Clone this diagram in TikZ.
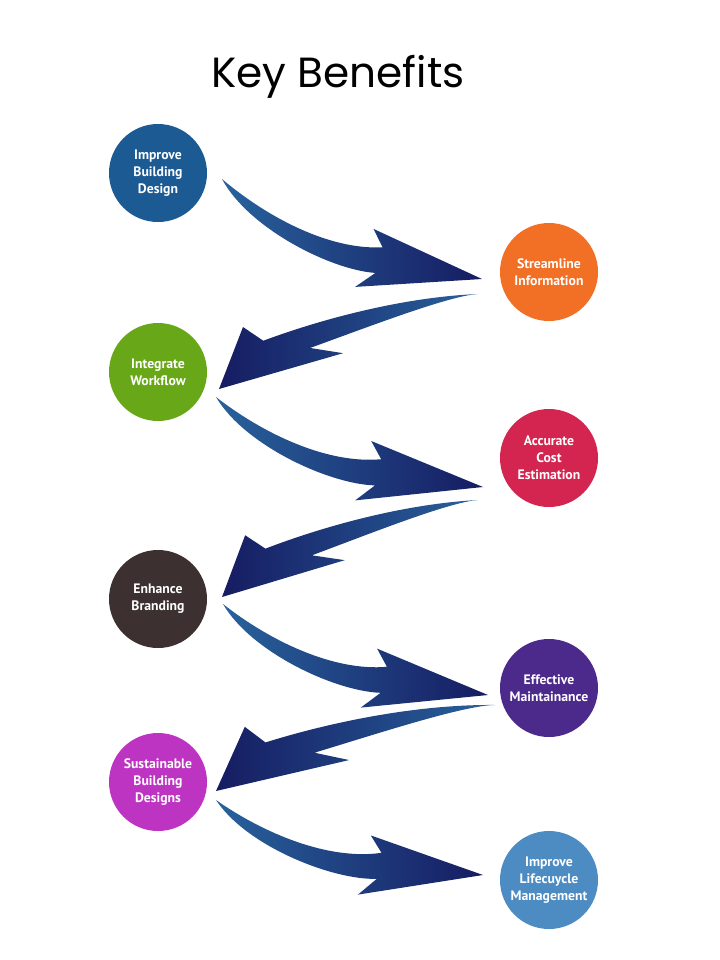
\documentclass[tikz,border=0pt]{standalone}
\usepackage{fontspec}
\usetikzlibrary{calc}
\newfontfamily\titlefont{Poppins}
\newfontfamily\labelfont{PT Sans}
\definecolor{swooshlight}{RGB}{40,98,156}
\definecolor{swooshdark}{RGB}{22,28,98}
\definecolor{ibdblue}{RGB}{28,90,148}
\definecolor{siorange}{RGB}{241,112,38}
\definecolor{iwgreen}{RGB}{104,168,24}
\definecolor{acered}{RGB}{212,36,80}
\definecolor{ebbrown}{RGB}{60,48,48}
\definecolor{empurple}{RGB}{76,42,140}
\definecolor{sbdpink}{RGB}{190,52,194}
\definecolor{ilmblue}{RGB}{76,140,194}
\newcommand\uw[4]{($(#1)!#3!(#2)+(#1)!#4!-90:(#2)-(#1)$)}
\newcommand\swooshR[2]{\shade[swooshR] (#1)
  .. controls \uw{#1}{#2}{0.2}{0.07} and \uw{#1}{#2}{0.45}{0.1} .. \uw{#1}{#2}{0.626}{0.022}
  -- \uw{#1}{#2}{0.572}{-0.028} -- (#2) -- \uw{#1}{#2}{0.585}{0.19} -- \uw{#1}{#2}{0.635}{0.117}
  .. controls \uw{#1}{#2}{0.48}{0.165} and \uw{#1}{#2}{0.15}{0.13} .. (#1) -- cycle;}
\newcommand\swooshL[2]{\shade[swooshL] (#1)
  .. controls \uw{#1}{#2}{0.1}{0.03} and \uw{#1}{#2}{0.4}{0.025} .. \uw{#1}{#2}{0.639}{0.026}
  -- \uw{#1}{#2}{0.533}{-0.033} -- (#2) -- \uw{#1}{#2}{0.841}{0.181} -- \uw{#1}{#2}{0.789}{0.109}
  .. controls \uw{#1}{#2}{0.55}{0.11} and \uw{#1}{#2}{0.25}{0.08} .. (#1) -- cycle;}
\tikzset{
  benefit/.style={circle, minimum size=49mm, inner sep=0pt, align=center, text=white,
    font=\labelfont\bfseries\fontsize{19.5}{24}\selectfont},
  swooshR/.style={left color=swooshlight, right color=swooshdark},
  swooshL/.style={left color=swooshdark, right color=swooshlight}
}
\begin{document}
\begin{tikzpicture}[x=0.5mm, y=-0.5mm]
\useasboundingbox (0,0) rectangle (720,960);

\node[anchor=base, font=\titlefont\fontsize{60}{72}\selectfont] (title) at (338,87) {Key Benefits};

\node[benefit, fill=ibdblue] (ibd) at (158,173) {Improve\\Building\\Design};
\node[benefit, fill=siorange] (si) at (549,272) {Streamline\\Information};
\node[benefit, fill=iwgreen] (iw) at (158,372) {Integrate\\Workflow};
\node[benefit, fill=acered] (ace) at (549,458) {Accurate\\Cost\\Estimation};
\node[benefit, fill=ebbrown] (eb) at (158,599) {Enhance\\Branding};
\node[benefit, fill=empurple] (em) at (549,688) {Effective\\Maintainance};
\node[benefit, fill=sbdpink] (sbd) at (158,782) {Sustainable\\Building\\Designs};
\node[benefit, fill=ilmblue] (ilm) at (549,880) {Improve\\Lifecuycle\\Management};

\coordinate (t1) at ($(ibd)+(64,6)$);
\coordinate (h1) at ($(si)+(-67,7)$);
\coordinate (t2) at ($(si)+(-71,22)$);
\coordinate (h2) at ($(iw)+(61,17)$);
\coordinate (t3) at ($(iw)+(58,25)$);
\coordinate (h3) at ($(ace)+(-66,29)$);
\coordinate (t4) at ($(ace)+(-71,42)$);
\coordinate (h4) at ($(eb)+(64,-2)$);
\coordinate (t5) at ($(eb)+(65,5)$);
\coordinate (h5) at ($(em)+(-61,7)$);
\coordinate (t6) at ($(em)+(-54,17)$);
\coordinate (h6) at ($(sbd)+(58,9)$);
\coordinate (t7) at ($(sbd)+(58,18)$);
\coordinate (h7) at ($(ilm)+(-66,-5)$);

\swooshR{t1}{h1}
\swooshL{t2}{h2}
\swooshR{t3}{h3}
\swooshL{t4}{h4}
\swooshR{t5}{h5}
\swooshL{t6}{h6}
\swooshR{t7}{h7}
\end{tikzpicture}
\end{document}
